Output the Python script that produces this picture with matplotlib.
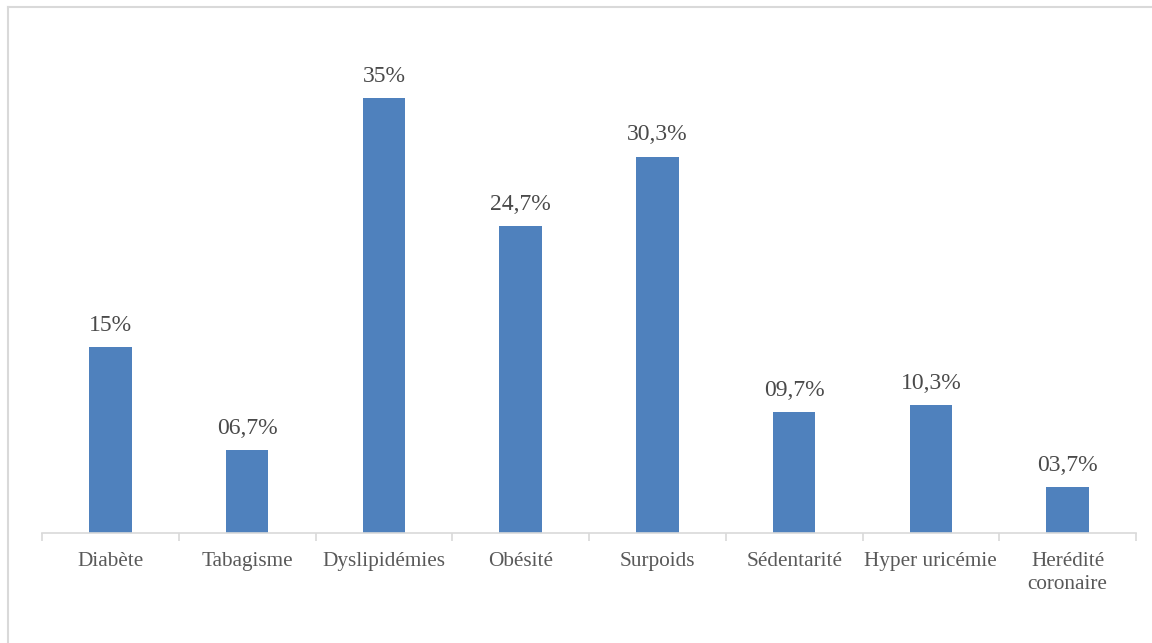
import matplotlib
matplotlib.use("Agg")
import matplotlib.pyplot as plt
from matplotlib.lines import Line2D

categories = ["Diabète", "Tabagisme", "Dyslipidémies", "Obésité", "Surpoids",
              "Sédentarité", "Hyper uricémie", "Herédité\ncoronaire"]
values = [15, 6.7, 35, 24.7, 30.3, 9.7, 10.3, 3.7]


def fmt(v):
    if float(v).is_integer():
        return f"{int(v)}%"
    return f"{v:04.1f}".replace(".", ",") + "%"


plt.rcParams["font.family"] = ["Liberation Serif", "DejaVu Serif"]

W, H, DPI = 1152, 643, 100
fig = plt.figure(figsize=(W / DPI, H / DPI), dpi=DPI)
ax = fig.add_axes([42 / W, 1 - 533 / H, (1136 - 42) / W, (533 - 36) / H])

bar_color = "#4F81BD"
grid_color = "#D9D9D9"
text_color = "#595959"

x = list(range(len(categories)))
bars = ax.bar(x, values, width=0.31, color=bar_color, zorder=2)
ax.set_xlim(-0.5, len(categories) - 0.5)
ax.set_ylim(0, 40)

for rect, v in zip(bars, values):
    ax.annotate(fmt(v), (rect.get_x() + rect.get_width() / 2, rect.get_height()),
                xytext=(0, 8), textcoords="offset points", ha="center", va="bottom",
                fontsize=17, color="#4a4a4a")

for s in ["top", "right", "left"]:
    ax.spines[s].set_visible(False)
ax.spines["bottom"].set_color(grid_color)
ax.spines["bottom"].set_linewidth(1.2)
ax.set_yticks([])

# category labels centred under bars, tick marks on the boundaries
ax.set_xticks(x)
ax.set_xticklabels(categories, fontsize=15.3, color=text_color, linespacing=1.25,
                   va="top")
ax.tick_params(axis="x", which="major", length=0, pad=14)
ax.set_xticks([i - 0.5 for i in range(len(categories) + 1)], minor=True)
ax.tick_params(axis="x", which="minor", length=6, width=1.2, color=grid_color)

# chart area outline
fig.add_artist(Line2D([8 / W, 8 / W], [0, 1 - 7 / H], color=grid_color, lw=1.5,
                      transform=fig.transFigure))
fig.add_artist(Line2D([8 / W, 1], [1 - 7 / H, 1 - 7 / H], color=grid_color, lw=1.5,
                      transform=fig.transFigure))

fig.savefig("out.png", dpi=DPI, facecolor="white")
